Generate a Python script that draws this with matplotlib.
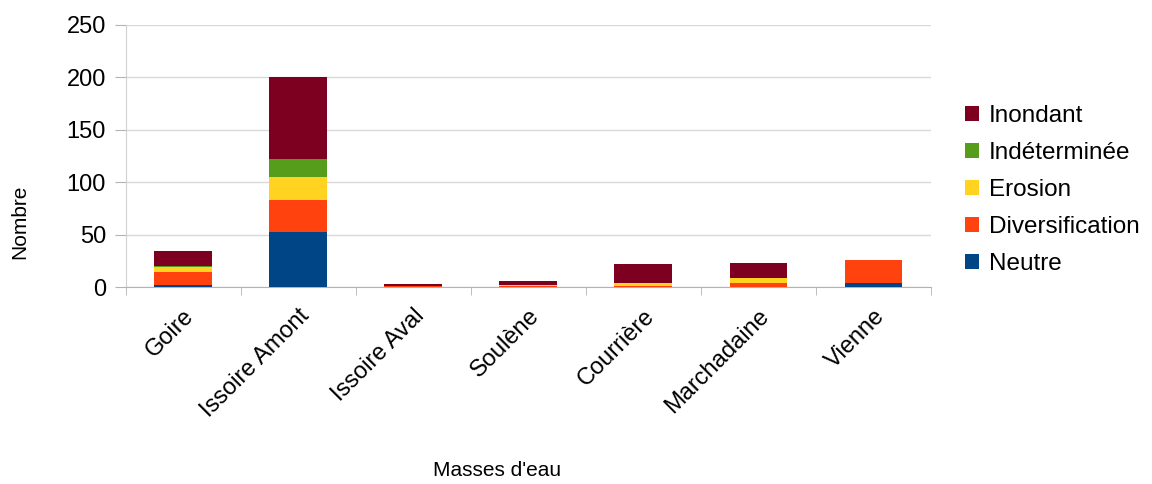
import numpy as np
import matplotlib.pyplot as plt

plt.rcParams['font.family'] = ['Liberation Sans', 'DejaVu Sans']

# Données
masses = ['Goire', 'Issoire Amont', 'Issoire Aval', 'Soulène', 'Courrière', 'Marchadaine', 'Vienne']
neutre = [2, 52, 0, 0, 0, 0, 4]
diversification = [12, 31, 1, 1, 1, 4, 22]
erosion = [5, 22, 0, 1, 3, 5, 0]
indeterminee = [1, 17, 0, 0, 0, 0, 0]
inondant = [14, 78, 2, 4, 18, 14, 0]

series = [
    ('Neutre', neutre, '#004586'),
    ('Diversification', diversification, '#ff420e'),
    ('Erosion', erosion, '#ffd320'),
    ('Indéterminée', indeterminee, '#579d1c'),
    ('Inondant', inondant, '#7e0021'),
]

fig = plt.figure(figsize=(11.52, 4.84), dpi=100)
ax = fig.add_axes([0.109, 0.407, 0.699, 0.542])

x = np.arange(len(masses))
bottom = np.zeros(len(masses))
handles = []
for label, vals, color in series:
    h = ax.bar(x, vals, 0.5, bottom=bottom, color=color, label=label, zorder=3)
    handles.append(h)
    bottom += np.array(vals)

ax.set_ylim(0, 250)
ax.set_xlim(-0.5, len(masses) - 0.5)
ax.set_yticks(range(0, 251, 50))
ax.yaxis.grid(True, color='#d9d9d9', linewidth=1, zorder=0)
ax.set_xticks(x)
ax.set_xticklabels(masses, rotation=45, ha='right', rotation_mode='anchor', fontsize=17)
ax.set_xticks(np.arange(-0.5, len(masses), 1), minor=True)
ax.tick_params(axis='x', which='major', length=0, pad=13)
ax.tick_params(axis='x', which='minor', length=6, color='#b3b3b3')
ax.tick_params(axis='y', length=8, color='#b3b3b3', labelsize=17, pad=6)
for s in ['top', 'right']:
    ax.spines[s].set_visible(False)
ax.spines['bottom'].set_color('#b3b3b3')
ax.spines['left'].set_color('#d0d0d0')

ax.set_xlabel("Masses d'eau", fontsize=15, labelpad=28, x=0.461)
ax.set_ylabel('Nombre', fontsize=15, labelpad=27, y=0.25)

ax.legend(handles[::-1], [s[0] for s in series][::-1], loc='center left',
          bbox_to_anchor=(1.03, 0.37), frameon=False, fontsize=17.5,
          handlelength=0.6, handleheight=0.6, handletextpad=0.4, labelspacing=0.62,
          borderaxespad=0)

fig.savefig('out.png', dpi=100)
